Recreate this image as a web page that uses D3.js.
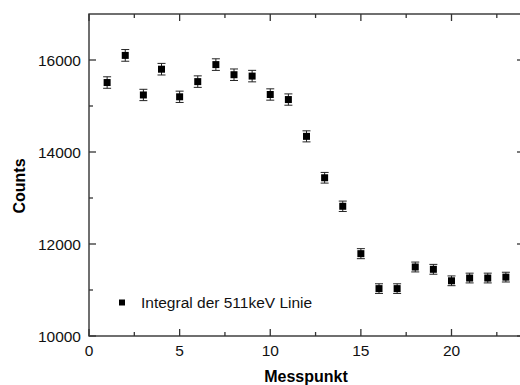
<!DOCTYPE html>
<html>
<head>
<meta charset="utf-8">
<script src="https://cdn.jsdelivr.net/npm/d3@7"></script>
<style>
  body { margin: 0; background: #fff; }
  svg { display: block; font-family: "Liberation Sans", Arial, sans-serif; }
</style>
</head>
<body>
<div id="chart"></div>
<script>
const messpunkt = [1, 2, 3, 4, 5, 6, 7, 8, 9, 10, 11, 12, 13, 14, 15, 16, 17, 18, 19, 20, 21, 22, 23];
const counts = [15510, 16100, 15240, 15800, 15200, 15530, 15900, 15680, 15650, 15250, 15140,
  14340, 13440, 12820, 11790, 11030, 11030, 11500, 11450, 11200, 11260, 11260, 11280];
const errors = [125, 127, 123, 126, 123, 125, 126, 125, 125, 123, 123,
  120, 116, 113, 109, 105, 105, 107, 107, 106, 106, 106, 106];
const xTicks = [0, 5, 10, 15, 20];
const yTicks = [10000, 12000, 14000, 16000];
const legendLabel = "Integral der 511keV Linie";

const width = 520, height = 385;
const margin = { top: 14, right: -4, bottom: 49, left: 89 };

const svg = d3.select("#chart").append("svg")
  .attr("width", width)
  .attr("height", height);

const x = d3.scaleLinear().domain([0, 24]).range([margin.left, width - margin.right]);
const y = d3.scaleLinear().domain([10000, 17000]).range([height - margin.bottom, margin.top]);

const axisColor = "#333";
const tickMajor = 7, tickMinor = 4;
const xMinor = d3.range(2.5, 24, 5);
const yMinor = [11000, 13000, 15000];

// frame
svg.append("rect")
  .attr("x", x(0)).attr("y", y(17000))
  .attr("width", x(24) - x(0)).attr("height", y(10000) - y(17000))
  .attr("fill", "none").attr("stroke", axisColor).attr("stroke-width", 1.4);

const ticks = svg.append("g").attr("stroke", axisColor).attr("stroke-width", 1.3);

// bottom and top ticks (inward)
xTicks.forEach(v => {
  ticks.append("line").attr("x1", x(v)).attr("x2", x(v))
    .attr("y1", y(10000)).attr("y2", y(10000) - tickMajor);
  ticks.append("line").attr("x1", x(v)).attr("x2", x(v))
    .attr("y1", y(17000)).attr("y2", y(17000) + tickMajor);
});
xMinor.forEach(v => {
  ticks.append("line").attr("x1", x(v)).attr("x2", x(v))
    .attr("y1", y(10000)).attr("y2", y(10000) - tickMinor);
  ticks.append("line").attr("x1", x(v)).attr("x2", x(v))
    .attr("y1", y(17000)).attr("y2", y(17000) + tickMinor);
});
// left and right ticks (inward)
yTicks.forEach(v => {
  ticks.append("line").attr("y1", y(v)).attr("y2", y(v))
    .attr("x1", x(0)).attr("x2", x(0) + tickMajor);
  ticks.append("line").attr("y1", y(v)).attr("y2", y(v))
    .attr("x1", x(24)).attr("x2", x(24) - tickMajor);
});
yMinor.forEach(v => {
  ticks.append("line").attr("y1", y(v)).attr("y2", y(v))
    .attr("x1", x(0)).attr("x2", x(0) + tickMinor);
  ticks.append("line").attr("y1", y(v)).attr("y2", y(v))
    .attr("x1", x(24)).attr("x2", x(24) - tickMinor);
});

// tick labels
svg.append("g").selectAll("text").data(xTicks).join("text")
  .attr("x", d => x(d)).attr("y", y(10000) + 20)
  .attr("text-anchor", "middle")
  .attr("font-size", 15.5).attr("fill", "#111")
  .text(d => d);

svg.append("g").selectAll("text").data(yTicks).join("text")
  .attr("x", x(0) - 8).attr("y", d => y(d) + 5.5)
  .attr("text-anchor", "end")
  .attr("font-size", 15.5).attr("fill", "#111")
  .text(d => d);

// axis titles
svg.append("text")
  .attr("x", 306).attr("y", 382)
  .attr("text-anchor", "middle")
  .attr("font-size", 16).attr("font-weight", "bold")
  .text("Messpunkt");

svg.append("text")
  .attr("transform", "translate(25,186) rotate(-90)")
  .attr("text-anchor", "middle")
  .attr("font-size", 16).attr("font-weight", "bold")
  .text("Counts");

// error bars
const data = messpunkt.map((m, i) => ({ m, c: counts[i], e: errors[i] }));
const eb = svg.append("g").attr("stroke", "#222").attr("stroke-width", 1);
eb.selectAll("line.v").data(data).join("line")
  .attr("class", "v")
  .attr("x1", d => x(d.m)).attr("x2", d => x(d.m))
  .attr("y1", d => y(d.c - d.e)).attr("y2", d => y(d.c + d.e));
eb.selectAll("line.t").data(data).join("line")
  .attr("class", "t")
  .attr("x1", d => x(d.m) - 4).attr("x2", d => x(d.m) + 4)
  .attr("y1", d => y(d.c + d.e)).attr("y2", d => y(d.c + d.e));
eb.selectAll("line.b").data(data).join("line")
  .attr("class", "b")
  .attr("x1", d => x(d.m) - 4).attr("x2", d => x(d.m) + 4)
  .attr("y1", d => y(d.c - d.e)).attr("y2", d => y(d.c - d.e));

// markers
const ms = 7;
svg.append("g").selectAll("rect").data(data).join("rect")
  .attr("x", d => x(d.m) - ms / 2).attr("y", d => y(d.c) - ms / 2)
  .attr("width", ms).attr("height", ms)
  .attr("fill", "#000");

// legend
svg.append("rect")
  .attr("x", 119).attr("y", 299.5).attr("width", 6).attr("height", 6).attr("fill", "#000");
svg.append("text")
  .attr("x", 141).attr("y", 308)
  .attr("font-size", 15.5).attr("fill", "#111")
  .text(legendLabel);
</script>
</body>
</html>
